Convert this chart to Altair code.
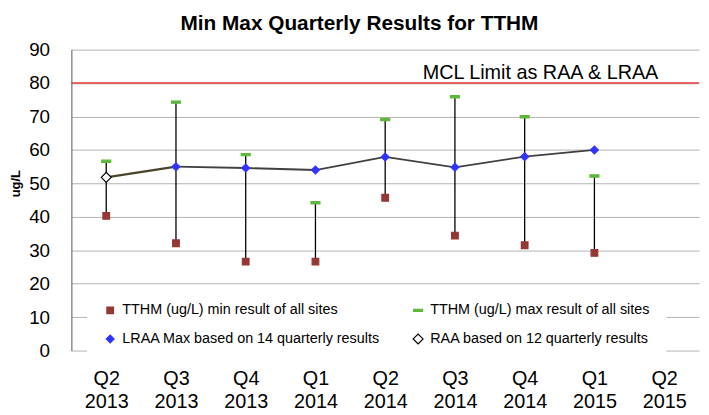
import altair as alt
import pandas as pd

quarters = ["Q2 2013", "Q3 2013", "Q4 2013", "Q1 2014", "Q2 2014",
            "Q3 2014", "Q4 2014", "Q1 2015", "Q2 2015"]
range_quarters = quarters[:8]
min_vals = [40.3, 32.1, 26.6, 26.6, 45.7, 34.4, 31.5, 29.2]
max_vals = [56.6, 74.3, 58.6, 44.2, 69.1, 75.9, 69.9, 52.2]
lraa_quarters = quarters[1:8]
lraa_vals = [55.0, 54.6, 54.0, 57.9, 54.8, 58.0, 60.0]
raa_quarters = quarters[:2]
raa_vals = [51.8, 55.0]
mcl_limit = [80]
mcl_label = ["MCL Limit as RAA & LRAA"]
mcl_label_quarter = ["Q4 2014"]
y_ticks = [0, 10, 20, 30, 40, 50, 60, 70, 80, 90]

S_MIN = "TTHM (ug/L) min result of all sites"
S_MAX = "TTHM (ug/L) max result of all sites"
S_LRAA = "LRAA Max based on 14 quarterly results"
S_RAA = "RAA based on 12 quarterly results"
# legend fills column by column: col 1 = min, LRAA; col 2 = max, RAA
series_order = [S_MIN, S_LRAA, S_MAX, S_RAA]
fill_colors = ["#953735", "#3333FF", "#5DB83A", "#FFFFFF"]
stroke_colors = ["#953735", "#3333FF", "#5DB83A", "#000000"]
dash_path = "M-1,-0.25L1,-0.25L1,0.25L-1,0.25Z"
shapes = ["square", "diamond", dash_path, "diamond"]
sizes = [45, 100, 64, 110]

FONT = "Liberation Sans"

range_df = pd.DataFrame({"quarter": range_quarters, "min": min_vals, "max": max_vals})
lraa_df = pd.DataFrame({"quarter": lraa_quarters, "value": lraa_vals})
raa_df = pd.DataFrame({"quarter": raa_quarters, "value": raa_vals})
points_df = pd.concat([
    pd.DataFrame({"quarter": raa_quarters[:1], "value": raa_vals[:1], "series": S_RAA}),
    pd.DataFrame({"quarter": range_quarters, "value": min_vals, "series": S_MIN}),
    pd.DataFrame({"quarter": range_quarters, "value": max_vals, "series": S_MAX}),
    pd.DataFrame({"quarter": lraa_quarters, "value": lraa_vals, "series": S_LRAA}),
], ignore_index=True)
mcl_df = pd.DataFrame({"y": mcl_limit, "label": mcl_label, "quarter": mcl_label_quarter})

x_enc = alt.X(
    "quarter:N",
    scale=alt.Scale(domain=quarters, type="point", padding=0.5),
    axis=alt.Axis(
        title=None, labelExpr="split(datum.label, ' ')", labelAngle=0,
        labelFontSize=20, labelLineHeight=24, labelPadding=18,
        ticks=False, tickSize=0, domain=False, grid=False,
        labelColor="#000000", labelFont=FONT,
    ),
)
y_scale = alt.Scale(domain=[0, 90], nice=False, zero=True)
y_axis = alt.Axis(
    title="ug/L", values=y_ticks, labelOverlap=False, titleFontSize=13,
    titleFontWeight="bold", titleAngle=-90, titleX=-49, titleY=135,
    titleAlign="center", titleFont=FONT, titleColor="#000000",
    labelFontSize=19, labelFont=FONT, labelColor="#000000", labelPadding=22,
    ticks=False, domainColor="#707070", domainWidth=1.2,
    gridColor="#B3B3B3", gridWidth=1,
)


def y_enc(field):
    return alt.Y(field, scale=y_scale, axis=y_axis)


mcl_rule = alt.Chart(mcl_df).mark_rule(color="#E8383D", strokeWidth=1.6).encode(
    y=y_enc("y:Q")
)
mcl_text = alt.Chart(mcl_df).mark_text(
    align="center", baseline="alphabetic", dx=16, dy=-4, fontSize=20, font=FONT, color="#000000"
).encode(x=x_enc, y=y_enc("y:Q"), text="label:N")

rules = alt.Chart(range_df).mark_rule(color="#000000", strokeWidth=1.3).encode(
    x=x_enc, y=y_enc("min:Q"), y2="max:Q"
)

raa_line = alt.Chart(raa_df).mark_line(color="#4A452A", strokeWidth=2.2).encode(
    x=x_enc, y=y_enc("value:Q")
)
lraa_line = alt.Chart(lraa_df).mark_line(color="#404040", strokeWidth=1.8).encode(
    x=x_enc, y=y_enc("value:Q")
)

legend = alt.Legend(
    title=None, orient="none", legendX=16, legendY=240, columns=2,
    labelFontSize=14.5, labelFont=FONT, labelColor="#000000", labelOffset=5,
    columnPadding=30, rowPadding=14, padding=16, fillColor="#FFFFFF",
    symbolStrokeWidth=1.2, labelLimit=400,
)
points = alt.Chart(points_df).mark_point(opacity=1, fillOpacity=1, strokeWidth=1.2).encode(
    x=x_enc,
    y=y_enc("value:Q"),
    fill=alt.Fill("series:N", scale=alt.Scale(domain=series_order, range=fill_colors), legend=legend),
    stroke=alt.Stroke("series:N", scale=alt.Scale(domain=series_order, range=stroke_colors), legend=legend),
    shape=alt.Shape("series:N", scale=alt.Scale(domain=series_order, range=shapes), legend=legend),
    size=alt.Size("series:N", scale=alt.Scale(domain=series_order, range=sizes), legend=legend),
)

chart = alt.layer(mcl_rule, mcl_text, rules, raa_line, lraa_line, points).properties(
    width=634, height=304,
    autosize=alt.AutoSizeParams(type="none"),
    padding={"left": 64, "top": 40, "right": 2, "bottom": 60},
    title=alt.TitleParams(
        "Min Max Quarterly Results for TTHM", fontSize=21, fontWeight="bold",
        font=FONT, color="#000000", anchor="middle", frame="group", offset=7, dx=-26,
    ),
).configure_view(stroke=None)

chart.save("out.html", embed_options={"renderer": "svg", "actions": False})
